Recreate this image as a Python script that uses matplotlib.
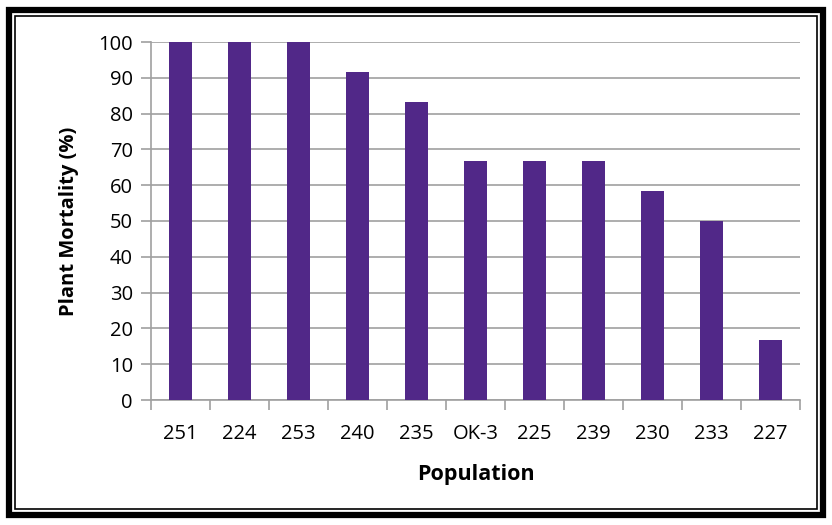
import matplotlib.pyplot as plt
from matplotlib.patches import Rectangle

populations = ["251", "224", "253", "240", "235", "OK-3", "225", "239", "230", "233", "227"]
mortality = [100, 100, 100, 91.67, 83.33, 66.67, 66.67, 66.67, 58.33, 50, 16.67]

plt.rcParams['font.family'] = ['Open Sans', 'DejaVu Sans']

W, H = 832, 525
fig = plt.figure(figsize=(W / 100, H / 100), dpi=100)
ax = fig.add_axes([151 / W, 1 - 400 / H, 649 / W, 358 / H])

x = range(len(populations))
ax.bar(x, mortality, width=0.39, color="#512888", zorder=3)

ax.set_xlim(-0.5, len(populations) - 0.5)
ax.set_ylim(0, 100)
ax.set_yticks(range(0, 101, 10))
ax.set_xticks(list(x))
ax.set_xticklabels(populations)
ax.set_xticks([i - 0.5 for i in range(len(populations) + 1)], minor=True)
ax.tick_params(axis="x", which="major", length=0, pad=17, labelsize=14.5)
ax.tick_params(axis="x", which="minor", length=7, color="#a0a0a0", width=1.2)
ax.tick_params(axis="y", length=7, color="#a0a0a0", width=1.2, labelsize=14.5, pad=6)

ax.grid(axis="y", color="#a0a0a0", linewidth=1.2, zorder=0)
for side in ["top", "right"]:
    ax.spines[side].set_visible(False)
for side in ["left", "bottom"]:
    ax.spines[side].set_color("#a0a0a0")
    ax.spines[side].set_linewidth(1.2)

ax.set_ylabel("Plant Mortality (%)", fontsize=14.5, fontweight="bold", labelpad=14)
ax.set_xlabel("Population", fontsize=15.5, fontweight="bold", labelpad=15)

# double border around the chart
fig.patches.append(Rectangle((9 / W, 10 / H), (W - 18) / W, (H - 20) / H,
                             transform=fig.transFigure, fill=False,
                             edgecolor="black", linewidth=4.5))
fig.patches.append(Rectangle((15 / W, 16 / H), (W - 30) / W, (H - 32) / H,
                             transform=fig.transFigure, fill=False,
                             edgecolor="black", linewidth=1.2))

fig.savefig("out.png", dpi=100)
